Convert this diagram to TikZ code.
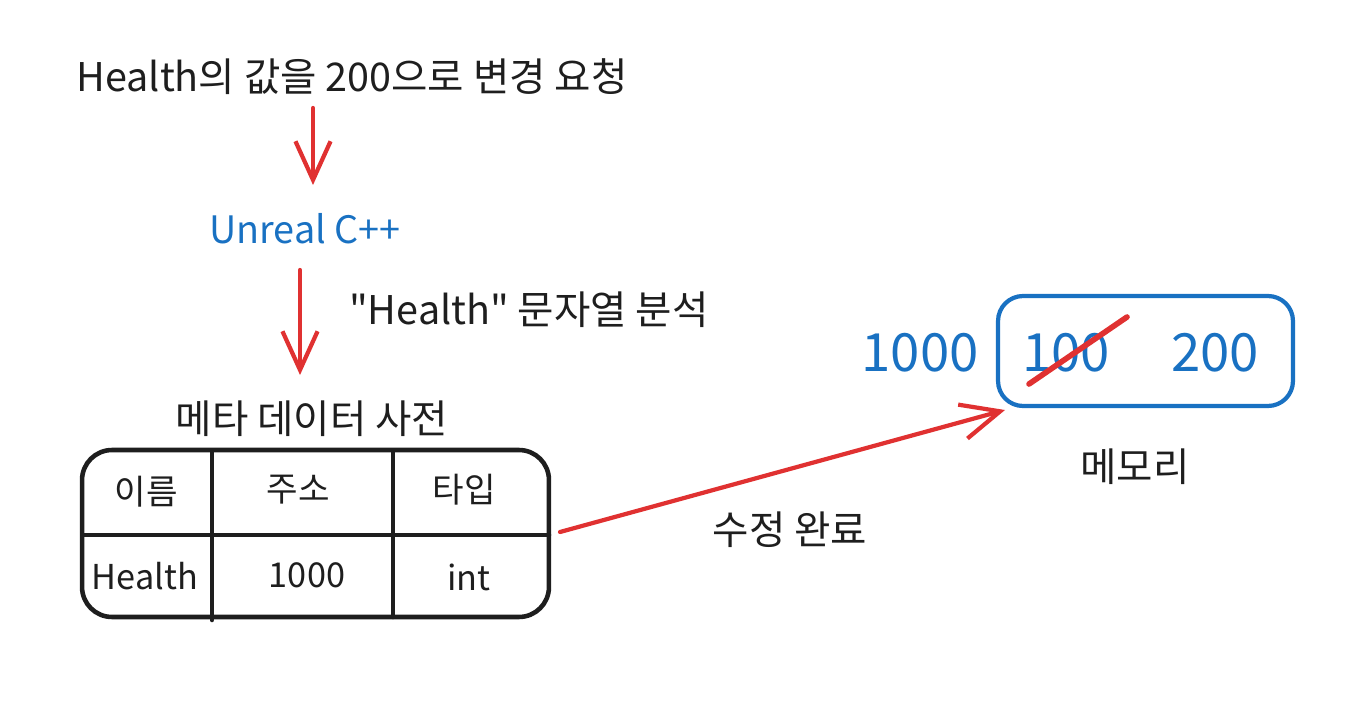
\documentclass[tikz,border=0pt]{standalone}
\usepackage{fontspec}
\setmainfont{Noto Sans CJK KR}[Ligatures=TeXOff]
\usetikzlibrary{arrows.meta}
\usetikzlibrary{positioning}
\definecolor{inkred}{HTML}{E03131}
\definecolor{inkblue}{HTML}{1971C2}
\definecolor{ink}{HTML}{1E1E1E}

\begin{document}
\begin{tikzpicture}[x=0.02cm, y=-0.02cm,
	redarrow/.style={draw=inkred, line width=2.4pt, line cap=round,
		-{Straight Barb[length=22pt, width=20pt]}},
	tableline/.style={draw=ink, line width=2.6pt, line cap=round},
	label/.style={text=ink, font=\fontsize{22.5}{26}\selectfont},
	celltext/.style={text=ink, font=\fontsize{19.5}{23}\selectfont},
	bluetext/.style={text=inkblue, font=\fontsize{21.5}{25}\selectfont},
	bignum/.style={text=inkblue, font=\fontsize{30}{34}\selectfont}]

	\useasboundingbox (0,0) rectangle (1351,709);

	% Request and parser
	\node[label] (req) at (352,77) {Health의 값을 200으로 변경 요청};
	\node[bluetext] (ue) at (305,229) {Unreal C++};
	\coordinate (reqout) at (313,108);
	\coordinate (uein) at (313,185);
	\draw[redarrow] (reqout) -- (uein);

	\coordinate (ueout) at (300,270);
	\coordinate (dictin) at (300,375);
	\draw[redarrow] (ueout) -- (dictin);
	\node[label, anchor=west] (parse) at (343,310) {"Health" 문자열 분석};

	% Meta data dictionary
	\node[label] (dict) at (312,419) {메타 데이터 사전};
	\node[draw=ink, line width=2.6pt, rounded corners=0.6cm,
		minimum width=9.34cm, minimum height=3.34cm] (tbl) at (315.5,533.5) {};
	\draw[tableline] (212,452) -- (212,620);
	\draw[tableline] (393,452) -- (393,617);
	\draw[tableline] (84,535) -- (549,535);

	\node[celltext] (cname) at (146,492) {이름};
	\node[celltext] (caddr) at (298,490) {주소};
	\node[celltext] (ctype) at (464,490) {타입};
	\node[celltext] (vname) at (145,576) {Health};
	\node[celltext] (vaddr) at (307,575) {1000};
	\node[celltext] (vtype) at (469,577) {int};

	% Memory
	\node[bignum] (addr) at (920,353) {1000};
	\node[draw=inkblue, line width=2.4pt, rounded corners=0.5cm,
		minimum width=5.9cm, minimum height=2.2cm] (mem) at (1145.5,351) {};
	\node[bignum] (oldval) at (1066,353) {100};
	\node[bignum] (newval) at (1215,353) {200};
	\draw[inkred, line width=3.2pt, line cap=round] (1029,384) -- (1127,317);
	\node[label] (memlabel) at (1135,467) {메모리};

	% Update arrow
	\coordinate (tblout) at (560,532);
	\coordinate (memin) at (1005,410);
	\draw[redarrow] (tblout) -- (memin);
	\node[label] (done) at (790,530) {수정 완료};

\end{tikzpicture}
\end{document}
